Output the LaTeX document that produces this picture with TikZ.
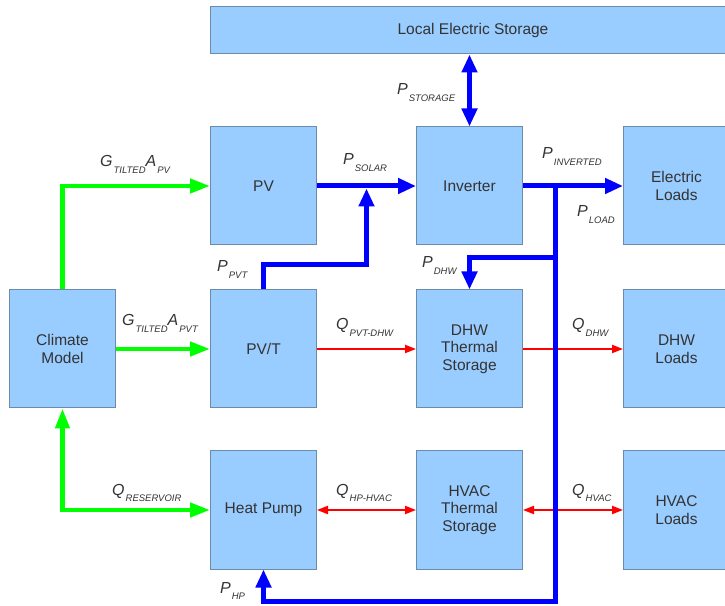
\documentclass[tikz,border=0pt]{standalone}
\usepackage{fontspec}
\setmainfont{Liberation Sans}
\usetikzlibrary{positioning,arrows.meta,calc}
\definecolor{boxfill}{HTML}{99CCFF}
\definecolor{boxline}{HTML}{6A8CAA}
\definecolor{txtgray}{HTML}{333333}
\definecolor{solargreen}{HTML}{00FF00}
\definecolor{powerblue}{HTML}{0000FF}
\definecolor{heatred}{HTML}{FF0000}
\newcommand{\fluxlabel}[2]{\textit{#1}\kern1pt\raisebox{-6.5pt}{\fontsize{9.5}{10}\selectfont\textit{#2}}}

\tikzset{
  block/.style={draw=boxline, fill=boxfill, line width=1pt, minimum width=106pt,
    minimum height=118pt, inner sep=0pt, align=center, text=txtgray,
    font=\fontsize{15.5}{17.5}\selectfont},
  fluxlbl/.style={anchor=base west, inner sep=0pt, text=txtgray,
    font=\fontsize{16}{18}\selectfont},
  radiation/.style={solargreen, line width=4.5pt, >={Triangle[length=20pt,width=14pt]}},
  power/.style={powerblue, line width=5pt, >={Triangle[length=18pt,width=15pt]}},
  heat/.style={heatred, line width=2pt, >={Triangle[length=11pt,width=8pt]}},
}

\begin{document}
\begin{tikzpicture}[x=1pt,y=1pt]
\clip (0,0) rectangle (725,605);
% blocks
\node[block] (pvt) at (263.5,256) {PV/T};
\node[block, above=44pt of pvt] (pv) {PV};
\node[block, below=42pt of pvt] (hp) {Heat Pump};
\node[block, left=94pt of pvt] (climate) {Climate\\Model};
\node[block, right=99pt of pv] (inv) {Inverter};
\node[block, right=99pt of pvt] (dhw) {DHW\\Thermal\\Storage};
\node[block, right=99pt of hp] (hvac) {HVAC\\Thermal\\Storage};
\node[block, right=100pt of inv] (eload) {Electric\\Loads};
\node[block, right=100pt of dhw] (dhwload) {DHW\\Loads};
\node[block, right=100pt of hvac] (hvacload) {HVAC\\Loads};
\node[block, minimum width=525pt, minimum height=47pt, anchor=south west] (les)
  at ($(pv.north west)+(0,72pt)$) {Local Electric Storage};

\coordinate (solarjoin) at ($(pv.east)!0.5!(inv.west)+(0,-2.5pt)$);
\coordinate (tap) at ($(inv.east)+(32pt,0)$);
\coordinate (dhwtap) at ($(tap |- inv.south)+(0,-12pt)$);
\coordinate (hpfeed) at ($(hp.south)+(0,-32pt)$);

% heat flows
\draw[heat,->] (pvt.east) -- (dhw.west);
\draw[heat,->] (dhw.east) -- (dhwload.west);
\draw[heat,<->] (hp.east) -- (hvac.west);
\draw[heat,<->] (hvac.east) -- (hvacload.west);

% climate
\draw[radiation,->] (climate.north) |- (pv.west);
\draw[radiation,->] (climate.east) -- (pvt.west);
\draw[radiation,<->] (climate.south) |- (hp.west);

% electric power
\draw[power,->] (pv.east) -- (inv.west);
\draw[power,->] (pvt.north) -- ++(0,25pt) -| (solarjoin);
\draw[power,<->] (inv.north) -- (inv.north |- les.south);
\draw[power,->] (inv.east) -- (eload.west);
\draw[power,->] (dhwtap) -| (dhw.north);
\draw[power,->] (tap) |- (hpfeed) -- (hp.south);

% labels
\node[fluxlbl] (lgapv) at (100,438) {\fluxlabel{G}{TILTED}\fluxlabel{A}{PV}};
\node[fluxlbl] (lgapvt) at (122,279) {\fluxlabel{G}{TILTED}\fluxlabel{A}{PVT}};
\node[fluxlbl] (lqres) at (112,110) {\fluxlabel{Q}{RESERVOIR}};
\node[fluxlbl] (lpsolar) at (343,440) {\fluxlabel{P}{SOLAR}};
\node[fluxlbl] (lppvt) at (217,333) {\fluxlabel{P}{PVT}};
\node[fluxlbl] (lpstor) at (397,510) {\fluxlabel{P}{STORAGE}};
\node[fluxlbl] (lpinv) at (542,446) {\fluxlabel{P}{INVERTED}};
\node[fluxlbl] (lpload) at (577,388) {\fluxlabel{P}{LOAD}};
\node[fluxlbl] (lpdhw) at (422,337) {\fluxlabel{P}{DHW}};
\node[fluxlbl] (lqpvtdhw) at (336,275) {\fluxlabel{Q}{PVT-DHW}};
\node[fluxlbl] (lqdhw) at (572,275) {\fluxlabel{Q}{DHW}};
\node[fluxlbl] (lqhphvac) at (336,110) {\fluxlabel{Q}{HP-HVAC}};
\node[fluxlbl] (lqhvac) at (572,110) {\fluxlabel{Q}{HVAC}};
\node[fluxlbl] (lphp) at (220,12) {\fluxlabel{P}{HP}};
\end{tikzpicture}
\end{document}
